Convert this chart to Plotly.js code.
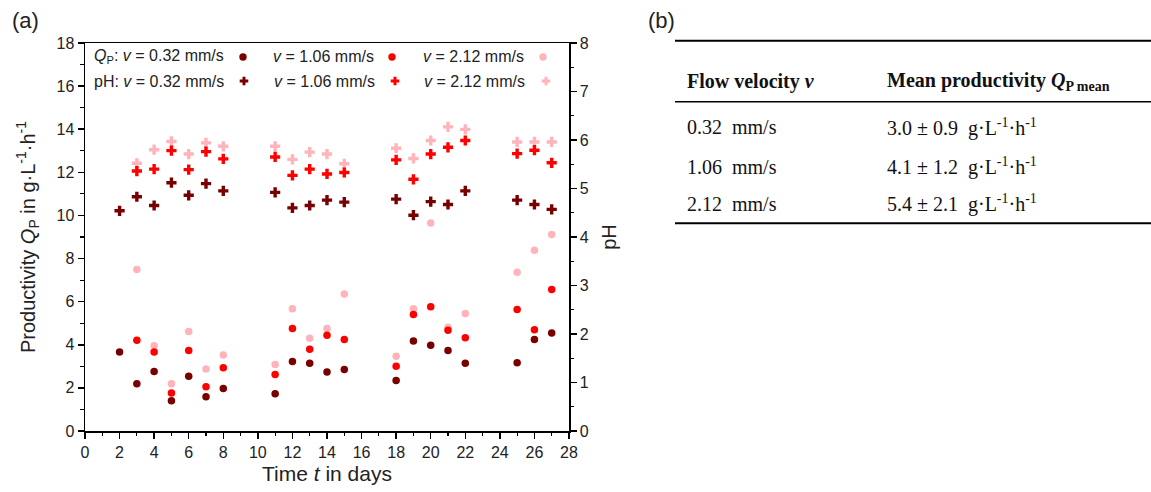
<!DOCTYPE html>
<html>
<head>
<meta charset="utf-8">
<script src="https://cdn.plot.ly/plotly-3.0.1.min.js"></script>
<style>html,body{margin:0;padding:0;background:#fff;}#chart{width:1151px;height:492px;}</style>
</head>
<body>
<div id="chart"></div>
<script>
// ---- data ----
const days = [2,3,4,5,6,7,8,11,12,13,14,15,18,19,20,21,22,25,26,27];
const qp_032 = [3.67,2.19,2.76,1.40,2.54,1.59,1.97,1.73,3.22,3.14,2.74,2.85,2.34,4.18,3.98,3.74,3.14,3.17,4.24,4.55];
const qp_106 = [null,4.21,3.67,1.76,3.73,2.05,2.93,2.62,4.76,3.79,4.44,4.25,3.00,5.41,5.76,4.67,4.33,5.64,4.70,6.56];
const qp_212 = [null,7.49,3.96,2.19,4.62,2.88,3.53,3.08,5.67,4.30,4.76,6.36,3.47,5.67,9.65,4.81,5.45,7.37,8.38,9.12];
const ph_032 = [4.54,4.83,4.65,5.12,4.86,5.10,4.95,4.92,4.60,4.65,4.76,4.72,4.78,4.45,4.73,4.67,4.95,4.76,4.67,4.57];
const ph_106 = [null,5.36,5.40,5.78,5.39,5.76,5.61,5.65,5.27,5.40,5.30,5.33,5.59,5.19,5.71,5.85,5.99,5.72,5.79,5.53];
const ph_212 = [null,5.52,5.80,5.97,5.71,5.94,5.87,5.87,5.60,5.75,5.71,5.51,5.83,5.62,5.99,6.27,6.22,5.96,5.96,5.96];
const velocityLabels = ["0.32", "1.06", "2.12"];
const meanQp = ["3.0", "4.1", "5.4"];
const stdQp = ["0.9", "1.2", "2.1"];

// ---- styling ----
const W = 1151, H = 492;
const colors = {"0.32": "#780000", "1.06": "#ff0000", "2.12": "#ffb3ba"};
const px = x => x / W;
const py = y => 1 - y / H;
const sans = "Liberation Sans, Arial, sans-serif";
const serif = "Liberation Serif, Times New Roman, serif";

const traces = [];
function addQp(y, v) {
  traces.push({x: days, y: y, type: 'scatter', mode: 'markers', xaxis: 'x', yaxis: 'y',
    name: 'QP v=' + v, showlegend: false,
    marker: {symbol: 'circle', size: 7.5, color: colors[v], line: {width: 0}}});
}
function addPh(y, v) {
  traces.push({x: days, y: y, type: 'scatter', mode: 'markers', xaxis: 'x', yaxis: 'y2',
    name: 'pH v=' + v, showlegend: false,
    marker: {symbol: 'cross', size: 8.5, color: colors[v], line: {width: 0}}});
}
addPh(ph_212, "2.12"); addPh(ph_106, "1.06"); addPh(ph_032, "0.32");
addQp(qp_212, "2.12"); addQp(qp_106, "1.06"); addQp(qp_032, "0.32");

const axisCommon = {
  showline: true, linecolor: '#000', linewidth: 1.5,
  ticks: 'outside', ticklen: 6, tickwidth: 1.5, tickcolor: '#000',
  showgrid: false, zeroline: false,
  tickfont: {family: sans, size: 16, color: '#222'}
};

const layout = {
  width: W, height: H,
  margin: {l: 0, r: 0, t: 0, b: 0},
  paper_bgcolor: '#fff', plot_bgcolor: '#fff',
  showlegend: false,
  xaxis: Object.assign({}, axisCommon, {
    domain: [px(85), px(569)], range: [0, 28], dtick: 2, tick0: 0,
    mirror: true,
    minor: {dtick: 1, ticks: 'outside', ticklen: 3.5, tickwidth: 1.2, tickcolor: '#000'},
    title: {text: 'Time <i>t</i> in days', font: {family: sans, size: 21, color: '#222'}, standoff: 6}
  }),
  yaxis: Object.assign({}, axisCommon, {
    domain: [py(431), py(43)], range: [0, 18], dtick: 2, tick0: 0,
    minor: {dtick: 1, ticks: 'outside', ticklen: 3.5, tickwidth: 1.2, tickcolor: '#000'},
    title: {text: 'Productivity <i>Q</i><sub>P</sub> in g·L<sup>-1</sup>·h<sup>-1</sup>', font: {family: sans, size: 20, color: '#222'}}
  }),
  yaxis2: Object.assign({}, axisCommon, {
    overlaying: 'y', side: 'right', anchor: 'x', range: [0, 8], dtick: 1, tick0: 0,
    minor: {dtick: 0.5, ticks: 'outside', ticklen: 3.5, tickwidth: 1.2, tickcolor: '#000'},
    title: {text: 'pH', font: {family: sans, size: 20, color: '#222'}, standoff: 14}
  }),
  annotations: [],
  shapes: []
};

// panel labels
layout.annotations.push({xref: 'paper', yref: 'paper', x: px(25), y: py(20), text: '(a)', showarrow: false,
  font: {family: sans, size: 22, color: '#222'}, xanchor: 'center', yanchor: 'middle'});
layout.annotations.push({xref: 'paper', yref: 'paper', x: px(661), y: py(20), text: '(b)', showarrow: false,
  font: {family: sans, size: 22, color: '#222'}, xanchor: 'center', yanchor: 'middle'});

// legend (text then key)
const legRows = [
  {y: 57, prefix: '<i>Q</i><sub>P</sub>: ', kind: 'dot', textX: [92, 271, 421], keyX: [243, 392, 543]},
  {y: 81, prefix: 'pH: ', kind: 'cross', textX: [92, 272, 422], keyX: [244, 395, 546]}
];
legRows.forEach(row => {
  velocityLabels.forEach((v, i) => {
    const t = (i === 0 ? row.prefix : '') + '<i>v</i> = ' + v + ' mm/s';
    layout.annotations.push({xref: 'paper', yref: 'paper', x: px(row.textX[i]), y: py(row.y), text: t,
      showarrow: false, xanchor: 'left', yanchor: 'middle', font: {family: sans, size: 16, color: '#222'}});
    if (row.kind === 'dot') {
      layout.shapes.push({type: 'circle', xref: 'paper', yref: 'paper', xsizemode: 'pixel', ysizemode: 'pixel',
        xanchor: px(row.keyX[i]), yanchor: py(row.y), x0: -3.7, x1: 3.7, y0: -3.7, y1: 3.7,
        fillcolor: colors[v], line: {width: 0}});
    } else {
      layout.shapes.push({type: 'path', xref: 'paper', yref: 'paper', xsizemode: 'pixel', ysizemode: 'pixel',
        xanchor: px(row.keyX[i]), yanchor: py(row.y),
        path: 'M-1.5,-4.3 H1.5 V-1.5 H4.3 V1.5 H1.5 V4.3 H-1.5 V1.5 H-4.3 V-1.5 H-1.5 Z',
        fillcolor: colors[v], line: {width: 0}});
    }
  });
});

// table (b)
const tLeft = 675, tRight = 1151;
[[40.7, 2], [101.7, 1.5], [223.3, 2]].forEach(([y, w]) => {
  layout.shapes.push({type: 'line', xref: 'paper', yref: 'paper', x0: px(tLeft), x1: px(tRight),
    y0: py(y), y1: py(y), line: {color: '#000', width: w}});
});
const c1 = 685, c2 = 885;
const tfont = {family: serif, size: 20, color: '#111'};
layout.annotations.push({xref: 'paper', yref: 'paper', x: px(c1), y: py(81.7), xanchor: 'left', yanchor: 'middle',
  showarrow: false, text: '<b>Flow velocity <i>v</i></b>', font: tfont});
layout.annotations.push({xref: 'paper', yref: 'paper', x: px(c2), y: py(81.7), xanchor: 'left', yanchor: 'middle',
  showarrow: false, text: '<b>Mean productivity <i>Q</i><sub>P mean</sub></b>', font: tfont});
const rowY = [127.3, 166.7, 204];
velocityLabels.forEach((v, i) => {
  layout.annotations.push({xref: 'paper', yref: 'paper', x: px(c1), y: py(rowY[i]), xanchor: 'left', yanchor: 'middle',
    showarrow: false, text: v + '\u00a0\u00a0mm/s', font: tfont});
  layout.annotations.push({xref: 'paper', yref: 'paper', x: px(c2), y: py(rowY[i]), xanchor: 'left', yanchor: 'middle',
    showarrow: false, text: meanQp[i] + ' ± ' + stdQp[i] + '\u00a0\u00a0g·L<sup>-1</sup>·h<sup>-1</sup>', font: tfont});
});

Plotly.newPlot('chart', traces, layout, {staticPlot: true, displayModeBar: false});
</script>
</body>
</html>
